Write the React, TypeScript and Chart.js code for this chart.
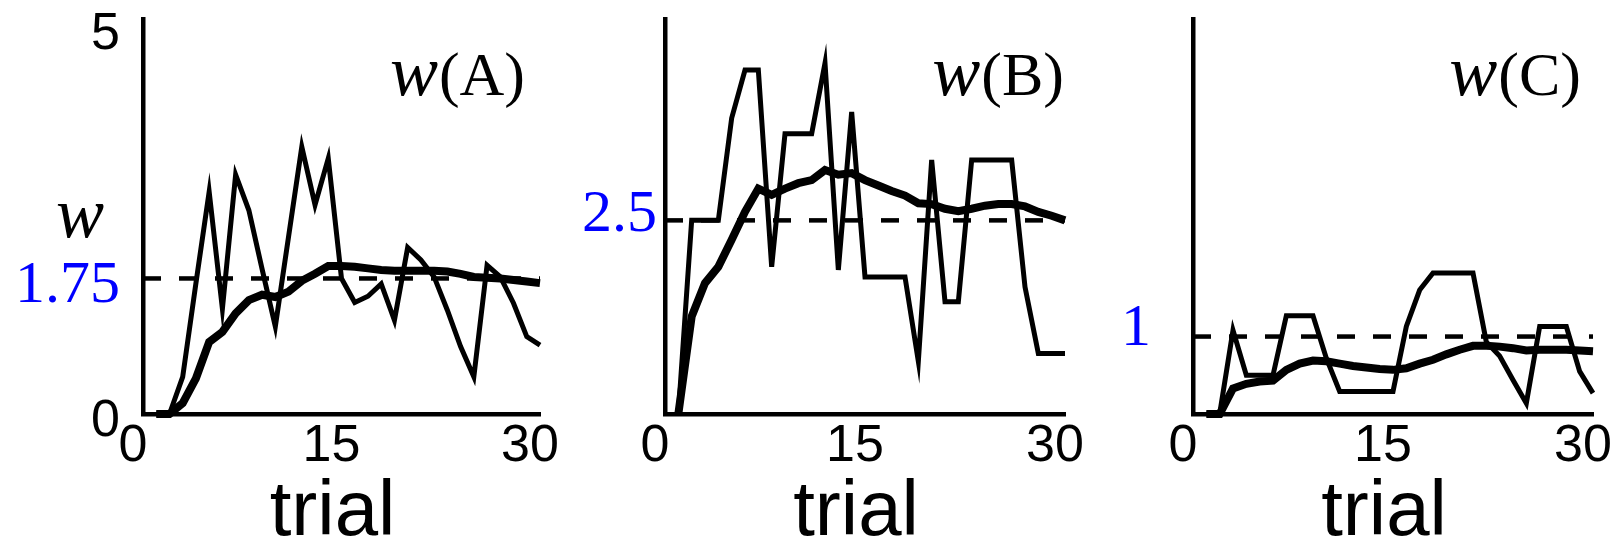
import React, { useEffect, useRef } from "react";
import { Chart, registerables } from "chart.js";

Chart.register(...registerables);

// ---------- data ----------
const trials = [1, 2, 3, 4, 5, 6, 7, 8, 9, 10, 11, 12, 13, 14, 15, 16, 17, 18, 19, 20, 21, 22, 23, 24, 25, 26, 27, 28, 29, 30];
const xTickValues = [0, 15, 30];
const xTitle = "trial";

const trialA = [0, 0, 0.48, 1.69, 2.87, 1.36, 3.09, 2.63, 1.87, 1.13, 2.29, 3.45, 2.7, 3.3, 1.75, 1.44, 1.52, 1.68, 1.21, 2.15, 1.99, 1.77, 1.34, 0.87, 0.48, 1.92, 1.77, 1.43, 1.0, 0.89];
const avgA = [0, 0, 0.14, 0.46, 0.93, 1.06, 1.3, 1.47, 1.54, 1.51, 1.58, 1.72, 1.81, 1.91, 1.91, 1.9, 1.88, 1.86, 1.85, 1.85, 1.85, 1.85, 1.84, 1.81, 1.77, 1.76, 1.75, 1.73, 1.71, 1.69];
const refA = 1.75;
const yTicksA = [0, 1.75, 5];

const trialB = [0, 2.5, 2.5, 2.5, 3.82, 4.44, 4.44, 1.9, 3.62, 3.62, 3.62, 4.53, 1.86, 3.9, 1.77, 1.77, 1.77, 1.77, 0.68, 3.28, 1.45, 1.45, 3.28, 3.28, 3.28, 3.28, 1.64, 0.78, 0.78, 0.78];
const avgB = [0, 1.26, 1.69, 1.9, 2.25, 2.61, 2.91, 2.83, 2.91, 2.98, 3.02, 3.15, 3.09, 3.11, 3.02, 2.95, 2.88, 2.82, 2.72, 2.71, 2.65, 2.62, 2.65, 2.69, 2.71, 2.71, 2.68, 2.61, 2.56, 2.5];
const refB = 2.5;
const yTicksB = [2.5];

const trialC = [0, 0, 1.08, 0.5, 0.5, 0.5, 1.27, 1.27, 1.27, 0.72, 0.29, 0.29, 0.29, 0.29, 0.29, 1.13, 1.6, 1.82, 1.82, 1.82, 1.82, 0.93, 0.75, 0.44, 0.14, 1.13, 1.13, 1.13, 0.55, 0.27];
const avgC = [0, 0, 0.33, 0.39, 0.42, 0.43, 0.57, 0.65, 0.69, 0.68, 0.65, 0.62, 0.6, 0.58, 0.57, 0.59, 0.65, 0.7, 0.77, 0.83, 0.88, 0.88, 0.87, 0.85, 0.82, 0.83, 0.83, 0.83, 0.82, 0.81];
const refC = 1;
const yTicksC = [1];

// ---------- layout / style ----------
const W = 1613;
const H = 542;
const TOP = 19;
const BOTTOM = 414;
const YMAX = 5.1;
const YAXIS_W = 135;
const SANS = '"Liberation Sans", Arial, Helvetica, sans-serif';
const SERIF = '"Liberation Serif", "Times New Roman", serif';
const BLUE = "#0000ff";

type Panel = {
  letter: string;
  trial: number[];
  avg: number[];
  ref: number;
  yTicks: number[];
  left: number;
  right: number;
  yPad: number;
  yOff: number;
  xOff: number;
  titleRight: number;
  xTitleDx: number;
  showW: boolean;
};

const panels: Panel[] = [
  { letter: "A", trial: trialA, avg: avgA, ref: refA, yTicks: yTicksA, left: 143, right: 540, yPad: 23, yOff: 8, xOff: -10, titleRight: 525, xTitleDx: -9, showW: true },
  { letter: "B", trial: trialB, avg: avgB, ref: refB, yTicks: yTicksB, left: 665, right: 1065, yPad: 8, yOff: -5, xOff: -10, titleRight: 1064, xTitleDx: -9, showW: false },
  { letter: "C", trial: trialC, avg: avgC, ref: refC, yTicks: yTicksC, left: 1193, right: 1593, yPad: 42, yOff: -7, xOff: -10, titleRight: 1581, xTitleDx: -9, showW: false },
];

function textPlugin(p: Panel) {
  return {
    id: "panelText" + p.letter,
    afterDraw(chart: any) {
      const ctx = chart.ctx as CanvasRenderingContext2D;
      const area = chart.chartArea;
      ctx.save();
      ctx.fillStyle = "#000";
      ctx.textBaseline = "alphabetic";
      // panel title  w(X)
      const baseline = area.top + 76;
      ctx.font = `62px ${SERIF}`;
      ctx.textAlign = "right";
      const par = "(" + p.letter + ")";
      ctx.fillText(par, p.titleRight, baseline);
      const pw = ctx.measureText(par).width;
      ctx.font = `italic 72px ${SERIF}`;
      ctx.fillText("w", p.titleRight - pw - 1, baseline);
      // y label w
      if (p.showW) {
        ctx.font = `italic 72px ${SERIF}`;
        ctx.textAlign = "center";
        ctx.fillText("w", area.left - 63, 237);
      }
      // x axis title
      ctx.font = `78px ${SANS}`;
      ctx.textAlign = "center";
      ctx.fillText(xTitle, (area.left + area.right) / 2 + p.xTitleDx, 535);
      ctx.restore();
    },
  };
}

function PanelChart({ p }: { p: Panel }) {
  const ref = useRef<HTMLCanvasElement | null>(null);
  useEffect(() => {
    if (!ref.current) return;
    const pts = (vals: number[]) => trials.map((t, i) => ({ x: t, y: vals[i] }));
    const chart = new Chart(ref.current, {
      type: "line",
      data: {
        datasets: [
          { data: pts(p.avg), borderColor: "#000", borderWidth: 8, pointRadius: 0, tension: 0, clip: false as any },
          { data: pts(p.trial), borderColor: "#000", borderWidth: 5, pointRadius: 0, tension: 0, clip: false as any },
          {
            data: [
              { x: 0, y: p.ref },
              { x: 30, y: p.ref },
            ],
            borderColor: "#000",
            borderWidth: 4.5,
            borderDash: [18, 18],
            pointRadius: 0,
            clip: false as any,
          },
        ],
      },
      options: {
        animation: false,
        responsive: false,
        devicePixelRatio: 1,
        events: [],
        layout: {
          padding: { left: p.left - YAXIS_W, right: W - p.right, top: TOP, bottom: 0 },
        },
        plugins: {
          legend: { display: false },
          tooltip: { enabled: false },
          title: { display: false },
        },
        scales: {
          x: {
            type: "linear",
            position: "bottom",
            min: 0,
            max: 30,
            afterBuildTicks: (s: any) => {
              s.ticks = xTickValues.map((v) => ({ value: v }));
            },
            afterFit: (s: any) => {
              s.height = H - BOTTOM;
              s.paddingLeft = 0;
              s.paddingRight = 0;
            },
            grid: { display: false, drawTicks: false },
            border: { display: true, color: "#000", width: 4.5 },
            ticks: {
              font: { family: SANS, size: 52 },
              color: "#000",
              padding: 1,
              labelOffset: p.xOff,
              maxRotation: 0,
              autoSkip: false,
              callback: (v: any) => String(v),
            },
            title: { display: false },
          },
          y: {
            type: "linear",
            position: "left",
            min: 0,
            max: YMAX,
            afterBuildTicks: (s: any) => {
              s.ticks = p.yTicks.map((v) => ({ value: v }));
            },
            afterFit: (s: any) => {
              s.width = YAXIS_W;
              s.paddingTop = 0;
              s.paddingBottom = 0;
            },
            grid: { display: false, drawTicks: false },
            border: { display: true, color: "#000", width: 4.5 },
            ticks: {
              font: (c: any) =>
                c.tick && c.tick.value === p.ref ? { family: SERIF, size: 60 } : { family: SANS, size: 52 },
              color: (c: any) => (c.tick && c.tick.value === p.ref ? BLUE : "#000"),
              padding: p.yPad,
              labelOffset: p.yOff,
              autoSkip: false,
              callback: (v: any) => String(v),
            },
          },
        },
      },
      plugins: [textPlugin(p)],
    } as any);
    return () => chart.destroy();
  }, [p]);
  return (
    <canvas
      ref={ref}
      width={W}
      height={H}
      style={{ position: "absolute", left: 0, top: 0, width: W, height: H }}
    />
  );
}

export default function App() {
  return (
    <div style={{ position: "fixed", left: 0, top: 0, width: W, height: H, background: "#fff", overflow: "hidden" }}>
      {panels.map((p) => (
        <PanelChart key={p.letter} p={p} />
      ))}
    </div>
  );
}
